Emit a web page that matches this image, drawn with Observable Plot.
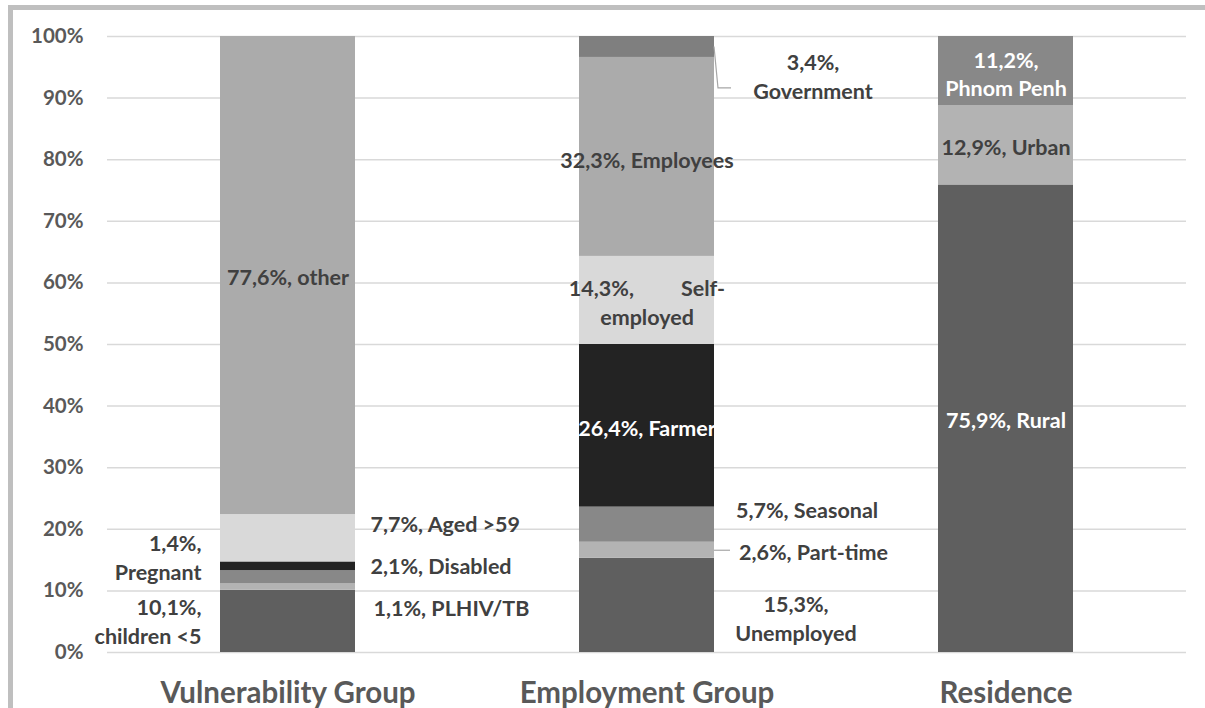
<!DOCTYPE html>
<html><head><meta charset="utf-8">
<script src="https://cdn.jsdelivr.net/npm/d3@7"></script>
<script src="https://cdn.jsdelivr.net/npm/@observablehq/plot@0.6"></script>
<style>
html,body{margin:0;padding:0;background:#fff;}
#wrap{position:relative;width:1205px;height:708px;overflow:hidden;}
#chart{position:absolute;left:0;top:0;}
#frame{position:absolute;left:8px;top:5px;right:0;bottom:0;border-top:5px solid #bfbfbf;border-left:5px solid #bfbfbf;pointer-events:none;}
</style></head><body>
<div id="wrap"><div id="chart"></div><div id="frame"></div></div>
<script>
// ---- data ----
const groups = ["Vulnerability Group", "Employment Group", "Residence"];
const vulnerabilityNames = ["children <5", "PLHIV/TB", "Disabled", "Pregnant", "Aged >59", "other"];
const vulnerabilityValues = [10.1, 1.1, 2.1, 1.4, 7.7, 77.6];
const employmentNames = ["Unemployed", "Part-time", "Seasonal", "Farmer", "Self-employed", "Employees", "Government"];
const employmentValues = [15.3, 2.6, 5.7, 26.4, 14.3, 32.3, 3.4];
const residenceNames = ["Rural", "Urban", "Phnom Penh"];
const residenceValues = [75.9, 12.9, 11.2];
const yTicks = [0, 10, 20, 30, 40, 50, 60, 70, 80, 90, 100];

// ---- styles ----
const segmentFills = ["#5f5f5f", "#b3b3b3", "#888888", "#232323", "#d9d9d9", "#ababab", "#7f7f7f"];
const dark = "#404040";
const labelLayout = {
  "children <5": {dx: -86.5, dy: -1, anchor: "end", wrap: true},
  "PLHIV/TB": {dx: 85.5, dy: 20, anchor: "start"},
  "Disabled": {dx: 82.5, dy: -12.5, anchor: "start"},
  "Pregnant": {dx: -86.5, dy: -10, anchor: "end", wrap: true},
  "Aged >59": {dx: 82.5, dy: -15, anchor: "start"},
  "other": {dy: 0},
  "Unemployed": {dx: 149, dy: 12, wrap: true},
  "Part-time": {dx: 92, dy: 1, anchor: "start"},
  "Seasonal": {dx: 89, dy: -16, anchor: "start"},
  "Farmer": {dy: 1, color: "white"},
  "Self-employed": {dy: 1, wrap: "spread"},
  "Employees": {dy: 1.5},
  "Government": {dx: 166, dy: 28.5, wrap: true},
  "Rural": {dy: 0, color: "white"},
  "Urban": {dy: 1},
  "Phnom Penh": {dy: 2, wrap: true, color: "white"}
};
const leaderSpecs = [
  {group: "Employment Group", name: "Part-time", pts: [[0, 0.5], [16, 0.5]]},
  {group: "Employment Group", name: "Government", pts: [[0, 0], [4, 41.5], [17, 41.5]]}
];

// ---- table ----
const pct = v => v.toFixed(1).replace(".", ",") + "%";
function labelText(name, value) {
  const L = labelLayout[name] || {};
  if (L.wrap === "spread") {
    const [a, b] = name.split("-");
    return pct(value) + "," + "\u00a0".repeat(9) + a + "-\n" + b;
  }
  if (L.wrap) return pct(value) + ",\n" + name;
  return pct(value) + ", " + name;
}
const table = [];
[[vulnerabilityNames, vulnerabilityValues], [employmentNames, employmentValues], [residenceNames, residenceValues]]
  .forEach(([names, values], gi) => {
    names.forEach((n, i) => table.push({group: groups[gi], name: n, value: values[i], fill: segmentFills[i], label: labelText(n, values[i])}));
  });

const labelMarks = table.map(row => {
  const L = labelLayout[row.name] || {};
  return Plot.text(table, Plot.stackY({
    x: "group", y: "value",
    text: d => d === row ? d.label : null,
    dx: L.dx || 0, dy: L.dy || 0,
    textAnchor: L.anchor || "middle",
    fill: L.color || dark,
    fontSize: 21.5, fontWeight: "bold", lineHeight: 1.33
  }));
});

const chart = Plot.plot({
  width: 1205, height: 708,
  marginLeft: 107, marginRight: 19, marginTop: 36, marginBottom: 56,
  style: {fontFamily: "Lato, 'Open Sans', sans-serif", fontWeight: "bold", background: "transparent", overflow: "visible"},
  x: {domain: groups, paddingInner: 0.625, paddingOuter: 0.3115, label: null},
  y: {domain: [0, 100], label: null},
  color: {type: "identity"},
  marks: [
    Plot.ruleY(yTicks, {stroke: "#d9d9d9", strokeWidth: 1.5}),
    Plot.barY(table, Plot.stackY({x: "group", y: "value", fill: "fill"})),
    Plot.axisY({ticks: yTicks, tickSize: 0, tickPadding: 24, tickFormat: d => d + "%", fontSize: 20.5, fontWeight: "bold", fill: "#595959", label: null}),
    Plot.axisX({tickSize: 0, tickPadding: 30, fontSize: 29.5, fontWeight: "bold", fill: "#595959", label: null}),
    ...labelMarks
  ]
});

// leader lines derived from the plot's own scales
const sx = chart.scale("x"), sy = chart.scale("y");
const g = d3.select(chart).append("g").attr("fill", "none").attr("stroke", "#a6a6a6").attr("stroke-width", 1.2);
leaderSpecs.forEach(s => {
  const rows = table.filter(d => d.group === s.group);
  let cum = 0, mid = 0;
  for (const r of rows) { if (r.name === s.name) { mid = cum + r.value / 2; break; } cum += r.value; }
  const x0 = sx.apply(s.group) + sx.bandwidth, y0 = sy.apply(mid);
  g.append("path").attr("d", d3.line()(s.pts.map(([dx, dy]) => [x0 + dx, y0 + dy])));
});

document.getElementById("chart").append(chart);
</script>
</body></html>
